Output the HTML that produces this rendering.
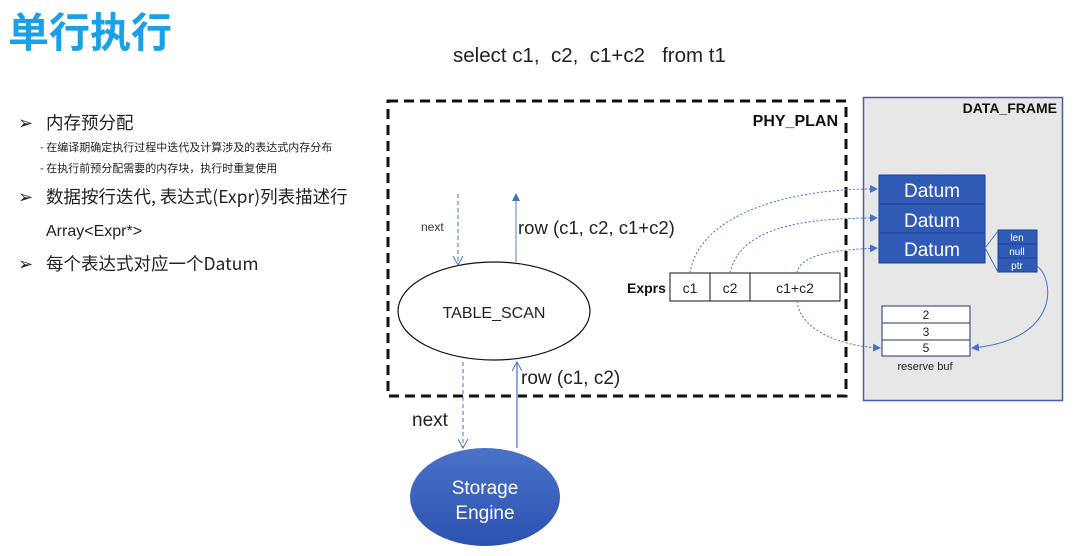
<!DOCTYPE html>
<html><head><meta charset="utf-8"><style>
html,body{margin:0;padding:0;background:#fff;}
svg{display:block;font-family:"Liberation Sans","Noto Sans CJK SC",sans-serif;}
</style></head><body>
<svg width="1080" height="556" viewBox="0 0 1080 556" xmlns="http://www.w3.org/2000/svg">
<defs>
<marker id="ah" markerWidth="8" markerHeight="8" refX="7" refY="4" orient="auto" markerUnits="userSpaceOnUse"><path d="M0,0 L8,4 L0,8 z" fill="#4472c4"/></marker>
<marker id="ao" markerWidth="10" markerHeight="10" refX="9" refY="5" orient="auto" markerUnits="userSpaceOnUse"><path d="M0,0 L9,5 L0,10" fill="none" stroke="#4472c4" stroke-width="1"/></marker>
<linearGradient id="sg" x1="0" y1="0" x2="0" y2="1"><stop offset="0" stop-color="#4a72c8"/><stop offset="1" stop-color="#2b52b0"/></linearGradient>
</defs>
<text x="8" y="47" font-size="41" font-weight="bold" fill="#1aa0e8" font-family="'Noto Sans CJK SC',sans-serif">单行执行</text>
<text x="453" y="62" font-size="20.5" fill="#222" xml:space="preserve">select c1,  c2,  c1+c2   from t1</text>

<g fill="#222" font-family="'Noto Sans CJK SC',sans-serif">
<text x="18" y="129" font-size="18">➢</text><text x="46" y="129" font-size="17.5">内存预分配</text>
<text x="40" y="151" font-size="11">- 在编译期确定执行过程中迭代及计算涉及的表达式内存分布</text>
<text x="40" y="172" font-size="11">- 在执行前预分配需要的内存块，执行时重复使用</text>
<text x="18" y="203" font-size="18">➢</text><text x="46" y="203" font-size="17.5">数据按行迭代, 表达式(Expr)列表描述行</text>
<text x="46" y="236" font-size="16" font-family="'Liberation Sans',sans-serif">Array&lt;Expr*&gt;</text>
<text x="18" y="270" font-size="18">➢</text><text x="46" y="270" font-size="17.5">每个表达式对应一个Datum</text>
</g>

<rect x="388" y="101" width="458" height="295" fill="none" stroke="#111" stroke-width="3" stroke-dasharray="10,6"/>
<text x="838" y="126" font-size="16" font-weight="bold" text-anchor="end" fill="#111">PHY_PLAN</text>

<rect x="863.5" y="97.5" width="199" height="303" fill="#e7e7e7" stroke="#4a5fa0" stroke-width="1.5"/>
<text x="1057" y="113" font-size="14" font-weight="bold" text-anchor="end" fill="#111">DATA_FRAME</text>

<g stroke="#1f3f8f" stroke-width="1" fill="#2f5bb7">
<rect x="879" y="175" width="106" height="29"/><rect x="879" y="204" width="106" height="29"/><rect x="879" y="233" width="106" height="30"/>
<rect x="998" y="230" width="39" height="14"/><rect x="998" y="244" width="39" height="14"/><rect x="998" y="258" width="39" height="14"/>
</g>
<g fill="#fff" font-size="19" text-anchor="middle"><text x="932" y="197">Datum</text><text x="932" y="227">Datum</text><text x="932" y="256">Datum</text></g>
<g fill="#fff" font-size="10" text-anchor="middle"><text x="1017" y="241">len</text><text x="1017" y="255">null</text><text x="1017" y="269">ptr</text></g>
<path d="M985,248 L998,231 M985,248 L998,272" stroke="#4472c4" fill="none"/>

<g stroke="#1f3570" stroke-width="1" fill="#fff">
<rect x="882" y="306" width="88" height="17"/><rect x="882" y="323" width="88" height="17"/><rect x="882" y="340" width="88" height="16"/>
</g>
<g fill="#222" font-size="12" text-anchor="middle"><text x="926" y="319">2</text><text x="926" y="336">3</text><text x="926" y="352">5</text></g>
<text x="925" y="370" font-size="11" text-anchor="middle" fill="#222">reserve buf</text>
<path d="M1037,266 C1055,280 1060,340 972,348" stroke="#4472c4" fill="none" marker-end="url(#ah)"/>

<g stroke="#111" stroke-width="1" fill="#fff"><rect x="670" y="273" width="170" height="28"/><line x1="710" y1="273" x2="710" y2="301"/><line x1="750" y1="273" x2="750" y2="301"/></g>
<text x="627" y="293" font-size="14" font-weight="bold" fill="#111">Exprs</text>
<g fill="#222" font-size="14" text-anchor="middle"><text x="690" y="293">c1</text><text x="730" y="293">c2</text><text x="795" y="293">c1+c2</text></g>

<g stroke="#4472c4" stroke-width="1" fill="none" stroke-dasharray="2,2">
<path d="M690,273 C700,210 800,188 877,189" marker-end="url(#ah)"/>
<path d="M730,273 C740,228 800,218 877,218" marker-end="url(#ah)"/>
<path d="M797,273 C800,253 840,250 877,248" marker-end="url(#ah)"/>
<path d="M797,301 C800,330 840,346 880,348" marker-end="url(#ah)"/>
</g>

<ellipse cx="494" cy="311" rx="96" ry="49" fill="#fff" stroke="#111" stroke-width="1.2"/>
<text x="494" y="318" font-size="16" text-anchor="middle" fill="#222">TABLE_SCAN</text>

<line x1="458" y1="194" x2="458" y2="265" stroke="#4472c4" stroke-dasharray="4,3" marker-end="url(#ao)"/>
<text x="421" y="231" font-size="12" fill="#333">next</text>
<line x1="516" y1="262" x2="516" y2="194" stroke="#8faadc" stroke-width="1.5" marker-end="url(#ah)"/>
<text x="518" y="234" font-size="18.5" fill="#222">row (c1, c2, c1+c2)</text>

<ellipse cx="485" cy="497" rx="75" ry="49" fill="url(#sg)"/>
<text x="485" y="494" font-size="19" text-anchor="middle" fill="#fff">Storage</text>
<text x="485" y="519" font-size="19" text-anchor="middle" fill="#fff">Engine</text>

<line x1="463" y1="362" x2="463" y2="448" stroke="#4472c4" stroke-dasharray="4,3" marker-end="url(#ao)"/>
<text x="412" y="426" font-size="19" fill="#222">next</text>
<line x1="517" y1="448" x2="517" y2="362" stroke="#8faadc" stroke-width="2" marker-end="url(#ao)"/>
<text x="521" y="384" font-size="19" fill="#222">row (c1, c2)</text>
</svg>
</body></html>
